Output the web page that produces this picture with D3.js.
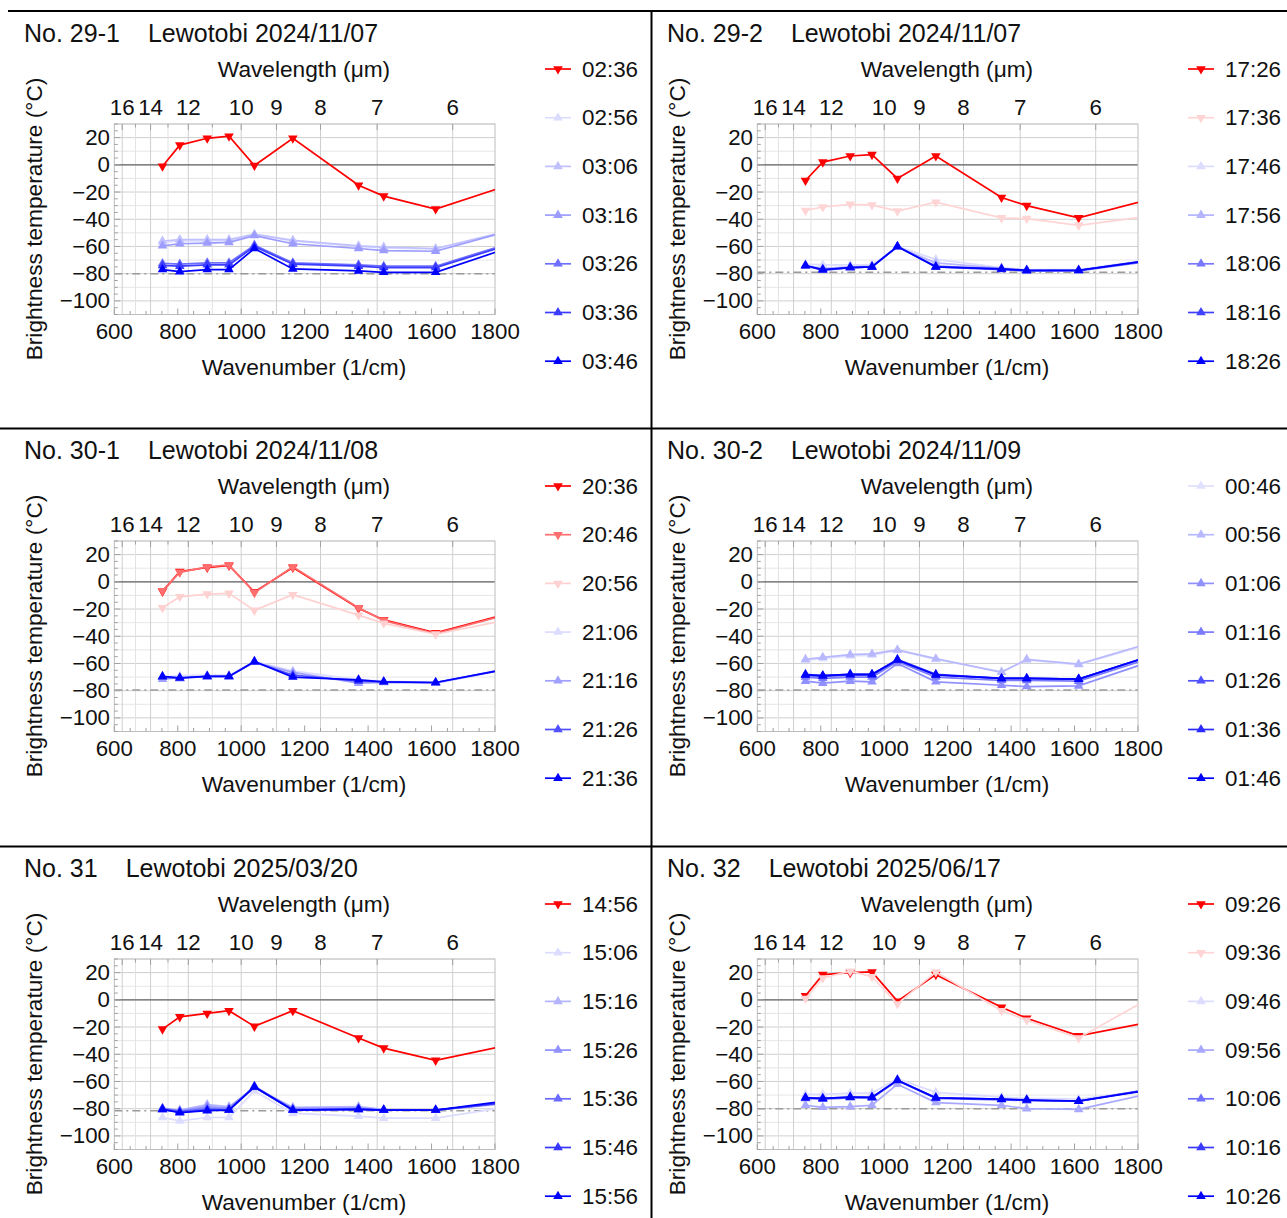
<!DOCTYPE html>
<html><head><meta charset="utf-8">
<script src="https://cdn.jsdelivr.net/npm/d3@7"></script>
<style>
body { margin: 0; background: #fff; }
text { font-family: "Liberation Sans", Arial, sans-serif; fill: #111; }
</style></head><body>
<svg id="chart" width="1287" height="1218"></svg>
<script>
// AHI band centre wavelengths (um): bands 16..8, then band 7 (off the right edge)
const bandUm = [13.3, 12.4, 11.2, 10.4, 9.6, 8.6, 7.3, 6.9, 6.2, 3.9]

const wnTicks = [600, 800, 1000, 1200, 1400, 1600, 1800]
const umTicks = [16, 14, 12, 10, 9, 8, 7, 6]
const umMinor = [15, 13, 11]
const tempTicks = [20, 0, -20, -40, -60, -80, -100]

// No. 29-1
const titles291 = ['No. 29-1', 'Lewotobi 2024/11/07']
const times291 = ['02:36', '02:56', '03:06', '03:16', '03:26', '03:36', '03:46']
const temps291 = [
  [-1, 14.5, 19.5, 21, -0.5, 19.5, -15, -23, -32.5, 40],
  [-57, -56, -56, -55.5, -51.5, -56, -60, -61, -62, -9],
  [-56, -55, -55, -55, -51, -55.5, -59.5, -60.5, -61.5, -8],
  [-59.5, -58, -57.5, -57, -52, -58, -61.5, -63, -63.5, -2.5],
  [-72.5, -73, -72, -72, -59, -72, -73.5, -74.5, -74.5, -5.8],
  [-74, -74.5, -73.5, -73.5, -60, -73, -74.5, -75.5, -75.5, -6.8],
  [-77, -78.5, -77, -77, -61.5, -76.5, -78, -79, -79, -4.7]
]
const colors291 = ['#ff0000', '#dcdcff', '#c0c0ff', '#9c9cff', '#6e6eff', '#3c3cff', '#0000ff']

// No. 29-2
const titles292 = ['No. 29-2', 'Lewotobi 2024/11/07']
const times292 = ['17:26', '17:36', '17:46', '17:56', '18:06', '18:16', '18:26']
const temps292 = [
  [-11.5, 2, 6.5, 7.5, -10, 6.5, -24, -30, -39, 19],
  [-33.5, -31, -29, -29.5, -34, -27.5, -39, -39.5, -44.5, -15.5],
  [-73, -73.5, -73.5, -73.5, -60, -69.5, -75.5, -77, -77, -46.5],
  [-74, -76, -75, -74.5, -60.5, -72, -76, -77.5, -77.5, -47],
  [-74.5, -77, -75.5, -75, -60, -74.5, -76.5, -77.5, -78, -47.5],
  [-74, -77.5, -75.5, -75, -60, -75, -77, -78, -77.5, -46],
  [-74, -77, -75.5, -75, -60, -75, -76.5, -77.5, -77.5, -47]
]
const colors292 = ['#ff0000', '#ffd4d4', '#dcdcff', '#b4b4ff', '#7878ff', '#4040ff', '#0000ff']

// No. 30-1
const titles301 = ['No. 30-1', 'Lewotobi 2024/11/08']
const times301 = ['20:36', '20:46', '20:56', '21:06', '21:16', '21:26', '21:36']
const temps301 = [
  [-7, 7.5, 10.5, 12, -7.5, 10.5, -19.5, -28, -37.5, 21],
  [-6.5, 7, 11, 12.5, -8, 11, -19, -28.5, -38, 20.5],
  [-19, -11, -9, -8.5, -21, -9.5, -24.5, -30.5, -38.5, 6],
  [-70, -69, -68.5, -68.5, -58.5, -65.5, -72, -73, -74, -30.8],
  [-71.5, -70.5, -69.5, -69.5, -59, -66.5, -74.5, -74, -74.5, -31.3],
  [-70, -71, -69.5, -69.5, -59, -68.5, -73, -73.5, -74, -31],
  [-69.5, -70.5, -69.5, -69.5, -58.5, -70, -72, -73.5, -74, -32.8]
]
const colors301 = ['#ff0000', '#ff6e6e', '#ffd0d0', '#dcdcff', '#a0a0ff', '#5050ff', '#0000ff']

// No. 30-2
const titles302 = ['No. 30-2', 'Lewotobi 2024/11/09']
const times302 = ['00:46', '00:56', '01:06', '01:16', '01:26', '01:36', '01:46']
const temps302 = [
  [-57.5, -56.5, -54.5, -54, -50.5, -57, -66, -57.5, -61, 4],
  [-57, -55.5, -53.5, -53, -50, -56.5, -66.5, -57, -60.5, 5],
  [-73, -74.5, -73, -73.5, -60, -73.5, -76, -77, -76.5, -1.2],
  [-70, -71, -70, -70, -58.5, -70, -72.5, -72.5, -73, -1.8],
  [-68.5, -69.5, -68.5, -68.5, -57.5, -68.5, -71, -71, -71.5, -0.3],
  [-68, -69, -68, -68, -57, -68, -71, -71, -71.5, -0.5],
  [-68.5, -69, -68, -68, -57.5, -68.5, -71, -71, -71.5, 0.7]
]
const colors302 = ['#e0e0ff', '#b8b8ff', '#9090ff', '#7a7aff', '#5050ff', '#2a2aff', '#0000ff']

// No. 31
const titles31 = ['No. 31', 'Lewotobi 2025/03/20']
const times31 = ['14:56', '15:06', '15:16', '15:26', '15:36', '15:46', '15:56']
const temps31 = [
  [-21.5, -12.5, -10, -8, -19.5, -8, -28, -35.5, -44.5, 1.8],
  [-86.5, -89, -86.5, -86.5, -67, -83.5, -85.5, -87, -87, -52.4],
  [-80, -81, -77, -78.5, -64.5, -79, -78.5, -80.5, -81, -60.7],
  [-79.5, -81.5, -78.5, -79.5, -64, -80, -79.5, -81, -81, -59],
  [-80, -82, -80, -80.5, -63.5, -80.5, -80, -81, -81, -58],
  [-80.5, -82.5, -81, -81, -64, -81, -80.5, -81, -81, -57.5],
  [-80.5, -83, -81.5, -81, -64, -81, -80.5, -81, -81, -52.5]
]
const colors31 = ['#ff0000', '#dcdcff', '#b4b4ff', '#9090ff', '#6a6aff', '#3636ff', '#0000ff']

// No. 32
const titles32 = ['No. 32', 'Lewotobi 2025/06/17']
const times32 = ['09:26', '09:36', '09:46', '09:56', '10:06', '10:16', '10:26']
const temps32 = [
  [3, 18.5, 20, 20.5, -1, 18.5, -5.5, -13.5, -26.5, 16.7],
  [1, 16, 21, 17, -3, 20.5, -8, -15, -28, 95.6],
  [-69.5, -69.5, -68.5, -68.5, -58, -68, -71.5, -72.5, -73, -45],
  [-77.5, -79, -78.5, -77.5, -62, -75.5, -77.5, -80, -80.5, -30.7],
  [-72.5, -73, -72, -72, -59.5, -72.5, -73.5, -74, -74.5, -37],
  [-72, -72.5, -71.5, -72, -59, -72, -73, -74, -74.5, -38],
  [-72, -72.5, -71.5, -71.5, -59, -72, -73, -73.5, -74.5, -39.4]
]
const colors32 = ['#ff0000', '#ffd4d4', '#dcdcff', '#a8a8ff', '#7070ff', '#3a3aff', '#0000ff']

// dash-dot reference level per panel
const refLevels = [-80, -79, -79.5, -79.5, -81.5, -80]

const panels = [
  { title: titles291, times: times291, temps: temps291, colors: colors291, ox: 0, oy: 0 },
  { title: titles292, times: times292, temps: temps292, colors: colors292, ox: 643, oy: 0 },
  { title: titles301, times: times301, temps: temps301, colors: colors301, ox: 0, oy: 417 },
  { title: titles302, times: times302, temps: temps302, colors: colors302, ox: 643, oy: 417 },
  { title: titles31, times: times31, temps: temps31, colors: colors31, ox: 0, oy: 835 },
  { title: titles32, times: times32, temps: temps32, colors: colors32, ox: 643, oy: 835 }
]

const svg = d3.select('#chart')
const fsTitle = 25 // panel title
const fsLabel = 22.7 // axis titles
const fsTick = 22.3 // tick labels
const fsLegend = 22.4

// panel separators
svg.append('line').attr('x1', 8).attr('x2', 1287).attr('y1', 11).attr('y2', 11).attr('stroke', '#000').attr('stroke-width', 2)
svg.append('line').attr('x1', 0).attr('x2', 1287).attr('y1', 428.5).attr('y2', 428.5).attr('stroke', '#000').attr('stroke-width', 2)
svg.append('line').attr('x1', 0).attr('x2', 1287).attr('y1', 846.5).attr('y2', 846.5).attr('stroke', '#000').attr('stroke-width', 2)
svg.append('line').attr('x1', 651.5).attr('x2', 651.5).attr('y1', 11).attr('y2', 1218).attr('stroke', '#000').attr('stroke-width', 2)

const L = 114.3, R = 495, T = 124, B = 314.5
const x = d3.scaleLinear().domain([600, 1800]).range([L, R])
const y = d3.scaleLinear().domain([-110, 30]).range([B, T])
const isRed = c => c.startsWith('#ff')
const tri = d3.symbol().type(d3.symbolTriangle).size(40)

panels.forEach((p, pi) => {
  const g = svg.append('g').attr('transform', `translate(${p.ox},${p.oy})`)

  // title
  const tt = g.append('text').attr('x', 24).attr('y', 33).attr('dominant-baseline', 'central').style('font-size', fsTitle + 'px')
  tt.append('tspan').text(p.title[0])
  tt.append('tspan').attr('dx', 28).text(p.title[1])

  // grid
  const grid = g.append('g')
  d3.range(-110, 31, 10).forEach(v => {
    grid.append('line').attr('x1', L).attr('x2', R).attr('y1', y(v)).attr('y2', y(v))
      .attr('stroke', v % 20 === 0 ? '#d0d0d0' : '#e6e6e6').attr('stroke-width', 1)
  })
  umTicks.concat(umMinor).forEach(u => {
    const xx = x(10000 / u)
    grid.append('line').attr('x1', xx).attr('x2', xx).attr('y1', T).attr('y2', B)
      .attr('stroke', umMinor.includes(u) ? '#e2e2e2' : '#cfcfcf').attr('stroke-width', 1)
  })
  grid.append('line').attr('x1', L).attr('x2', R).attr('y1', y(0)).attr('y2', y(0)).attr('stroke', '#666').attr('stroke-width', 1.2)
  grid.append('line').attr('x1', L).attr('x2', R).attr('y1', y(refLevels[pi])).attr('y2', y(refLevels[pi]))
    .attr('stroke', '#9a9a9a').attr('stroke-width', 1.4).attr('stroke-dasharray', '8,4,2,4')

  // frame
  g.append('rect').attr('x', L).attr('y', T).attr('width', R - L).attr('height', B - T)
    .attr('fill', 'none').attr('stroke', '#bdbdbd').attr('stroke-width', 1)

  // ticks
  const tk = g.append('g').attr('stroke', '#a0a0a0').attr('stroke-width', 1)
  d3.range(600, 1801, 50).forEach(v => {
    const len = v % 200 === 0 ? 6 : 3.5
    tk.append('line').attr('x1', x(v)).attr('x2', x(v)).attr('y1', B).attr('y2', B - len)
  })
  umTicks.concat(umMinor).forEach(u => {
    const len = umMinor.includes(u) ? 3.5 : 6
    tk.append('line').attr('x1', x(10000 / u)).attr('x2', x(10000 / u)).attr('y1', T).attr('y2', T + len)
  })
  d3.range(-110, 31, 5).forEach(v => {
    const len = v % 20 === 0 ? 6 : 3.5
    tk.append('line').attr('x1', L).attr('x2', L + len).attr('y1', y(v)).attr('y2', y(v))
  })

  // axis labels
  wnTicks.forEach(v => {
    g.append('text').attr('x', x(v)).attr('y', 331).attr('text-anchor', 'middle').attr('dominant-baseline', 'central')
      .style('font-size', fsTick + 'px').text(v)
  })
  umTicks.forEach(u => {
    g.append('text').attr('x', x(10000 / u)).attr('y', 107).attr('text-anchor', 'middle').attr('dominant-baseline', 'central')
      .style('font-size', fsTick + 'px').text(u)
  })
  tempTicks.forEach(v => {
    g.append('text').attr('x', 110).attr('y', y(v)).attr('text-anchor', 'end').attr('dominant-baseline', 'central')
      .style('font-size', fsTick + 'px').text(v < 0 ? '\u2212' + Math.abs(v) : v)
  })
  g.append('text').attr('x', 304).attr('y', 69).attr('text-anchor', 'middle').attr('dominant-baseline', 'central')
    .style('font-size', fsLabel + 'px').text('Wavelength (\u03bcm)')
  g.append('text').attr('x', 304).attr('y', 367).attr('text-anchor', 'middle').attr('dominant-baseline', 'central')
    .style('font-size', fsLabel + 'px').text('Wavenumber (1/cm)')
  g.append('text').attr('transform', 'translate(34,219) rotate(-90)').attr('text-anchor', 'middle').attr('dominant-baseline', 'central')
    .style('font-size', fsLabel + 'px').text('Brightness temperature (\u00b0C)')

  // series
  const clipId = 'clip' + pi
  g.append('clipPath').attr('id', clipId).append('rect').attr('x', L).attr('y', T).attr('width', R - L).attr('height', B - T)
  const plot = g.append('g').attr('clip-path', `url(#${clipId})`)
  const line = d3.line().x(d => x(d[0])).y(d => y(d[1]))
  p.temps.forEach((vals, si) => {
    const pts = vals.map((v, i) => [10000 / bandUm[i], v])
    const col = p.colors[si]
    plot.append('path').attr('d', line(pts)).attr('fill', 'none').attr('stroke', col).attr('stroke-width', 1.7)
    plot.selectAll(null).data(pts).enter().append('path')
      .attr('d', tri)
      .attr('transform', d => `translate(${x(d[0])},${y(d[1])})` + (isRed(col) ? ' rotate(180)' : ''))
      .attr('fill', col)
  })

  // legend
  p.times.forEach((t, i) => {
    const ly = 69 + i * 48.7
    const col = p.colors[i]
    g.append('line').attr('x1', 545).attr('x2', 571).attr('y1', ly).attr('y2', ly).attr('stroke', col).attr('stroke-width', 1.7)
    g.append('path').attr('d', tri).attr('fill', col)
      .attr('transform', `translate(558,${ly})` + (isRed(col) ? ' rotate(180)' : ''))
    g.append('text').attr('x', 582).attr('y', ly).attr('dominant-baseline', 'central').style('font-size', fsLegend + 'px').text(t)
  })
})
</script></body></html>
